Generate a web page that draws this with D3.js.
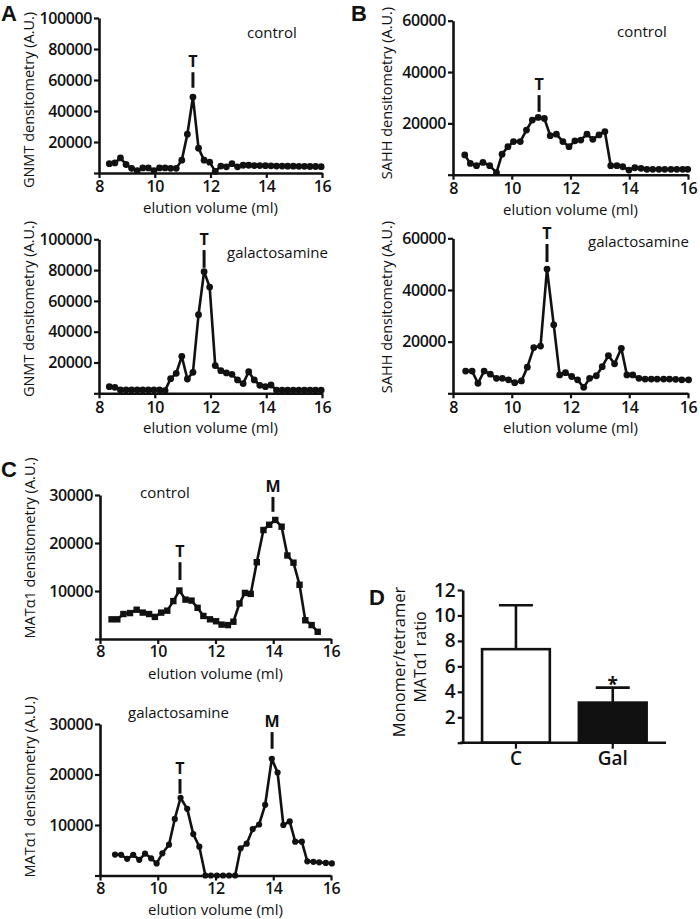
<!DOCTYPE html>
<html><head><meta charset="utf-8">
<script src="https://cdn.jsdelivr.net/npm/d3@7"></script>
<style>
body{margin:0;background:#fff}
svg{display:block}
text{font-family:"Open Sans",sans-serif;fill:#111}
</style>
</head><body>
<svg id="c" width="700" height="919"></svg>
<script>
// ---------- DATA ----------
const volumeTicks = [8, 10, 12, 14, 16];
const gnmtTicks = [0, 20000, 40000, 60000, 80000, 100000];
const sahhTicks = [0, 20000, 40000, 60000];
const matTicks = [0, 10000, 20000, 30000];
const ratioTicks = [0, 2, 4, 6, 8, 10, 12];

// Panel A: GNMT
const fracGnmt = [8.37,8.57,8.77,8.97,9.17,9.37,9.57,9.77,9.97,10.17,10.37,10.57,10.77,10.97,11.17,11.37,11.57,11.77,11.97,12.17,12.37,12.57,12.77,12.97,13.17,13.37,13.57,13.77,13.97,14.17,14.37,14.57,14.77,14.97,15.17,15.37,15.57,15.77,15.97];
const gnmtControl = [6000,6500,9700,5500,3000,1500,3300,3300,1500,3300,3300,3000,3000,8300,25000,49000,16000,8300,7000,1000,4500,4000,6000,4000,5000,5000,4800,4800,4700,4600,4500,4500,4400,4400,4300,4300,4200,4200,4100];
const gnmtGal = [4300,3900,2200,2200,2200,2200,2200,2200,2200,2200,1800,9500,13000,24000,9300,13600,51000,79000,69000,18000,14700,13200,12300,8700,6300,14000,8700,5200,4300,5400,2000,2000,2000,2000,2000,2000,2000,2000,2000];

// Panel B: SAHH
const fracSahhControl = [8.40,8.59,8.80,9.02,9.25,9.48,9.67,9.87,10.06,10.29,10.50,10.70,10.90,11.11,11.31,11.52,11.74,11.95,12.15,12.35,12.56,12.76,12.97,13.17,13.37,13.58,13.78,13.99,14.19,14.40,14.60,14.80,15.01,15.21,15.42,15.62,15.82,15.99];
const sahhControl = [7700,4400,3500,4800,3500,800,8000,10900,12900,12900,17400,21300,22300,21900,15200,15800,12900,10900,13200,13500,15800,13800,15500,16800,3500,3500,3100,1800,2700,2500,2100,2100,2100,2100,2100,2100,2100,2100];
const fracSahhGal = [8.43,8.65,8.85,9.06,9.27,9.48,9.68,9.89,10.10,10.33,10.53,10.75,10.98,11.20,11.43,11.63,11.83,12.04,12.24,12.45,12.65,12.88,13.08,13.29,13.50,13.73,13.92,14.12,14.33,14.54,14.75,14.95,15.17,15.37,15.58,15.79,16.02];
const sahhGal = [8600,8600,3900,8600,7400,5800,5800,5200,4100,4800,10100,17700,18300,48100,26500,7100,8000,6500,5200,2300,5800,6800,10300,14600,11400,17400,7100,7100,5800,5500,5500,5500,5500,5500,5400,5200,5200];

// Panel C: MATα1
const fracMatControl = [8.40,8.60,8.81,9.04,9.27,9.48,9.70,9.90,10.12,10.33,10.54,10.75,10.96,11.17,11.38,11.58,11.81,12.02,12.21,12.43,12.62,12.83,13.02,13.22,13.43,13.66,13.86,14.07,14.29,14.49,14.70,14.91,15.11,15.33,15.54];
const matControl = [4100,4100,5200,5400,6100,5500,5200,4600,5500,5900,7900,10100,8200,8000,6500,4800,4100,3700,3000,2900,3600,7400,9600,9400,16000,22700,23800,24800,23400,17400,15900,11300,3900,2900,1500];
const fracMatGal = [8.52,8.73,8.94,9.15,9.36,9.56,9.77,9.96,10.16,10.39,10.59,10.79,11.02,11.23,11.44,11.65,11.84,12.05,12.26,12.47,12.68,12.87,13.08,13.29,13.51,13.72,13.95,14.15,14.35,14.57,14.76,14.99,15.18,15.39,15.59,15.82,16.03];
const matGal = [4150,4100,3300,4100,3100,4350,3400,2400,4400,6100,11200,15400,13200,8200,5700,0,0,0,0,0,0,5400,6300,9200,10100,14000,23100,20400,10000,10700,6700,6700,2800,2700,2600,2500,2400];

// Peak annotations: label, elution volume, dash range (A.U.)
const annoGnmtControl = [{label:"T", x:11.37, lo:55000, hi:65000}];
const annoGnmtGal = [{label:"T", x:11.77, lo:81500, hi:93000}];
const annoSahhControl = [{label:"T", x:10.93, lo:24500, hi:31000}];
const annoSahhGal = [{label:"T", x:11.20, lo:50800, hi:57800}];
const annoMatControl = [{label:"T", x:10.77, lo:12300, hi:16000}, {label:"M", x:13.99, lo:26500, hi:29600}];
const annoMatGal = [{label:"T", x:10.77, lo:16200, hi:19100}, {label:"M", x:13.96, lo:25100, hi:28400}];

// Panel D
const ratioCategories = ["C", "Gal"];
const ratioMeans = [7.35, 3.15];
const ratioSem = [3.45, 1.18];
const ratioSignif = ["", "*"];

// ---------- DRAW ----------
const svg = d3.select("#c");

function chrom(o) {
  const x = d3.scaleLinear().domain([8, 16]).range([o.x0, o.x1]);
  const y = d3.scaleLinear().domain([0, o.ymax]).range([o.yb, o.yt]);
  const g = svg.append("g");

  const ya = g.append("g").attr("transform", `translate(${o.x0},0)`)
    .call(d3.axisLeft(y).tickValues(o.yticks).tickSize(5).tickSizeOuter(0).tickPadding(2)
      .tickFormat(d => d === 0 ? "" : d3.format("d")(d)));
  const xa = g.append("g").attr("transform", `translate(0,${o.yb})`)
    .call(d3.axisBottom(x).tickValues(volumeTicks).tickSize(5).tickSizeOuter(0).tickPadding(o.xPad || 3)
      .tickFormat(d3.format("d")));
  [ya, xa].forEach(a => {
    a.select(".domain").attr("stroke", "#111").attr("stroke-width", 2.6);
    a.selectAll(".tick line").attr("stroke", "#111").attr("stroke-width", 2.2);
    a.selectAll(".tick text").style("font-family", '"Open Sans",sans-serif')
      .style("font-size", "16px").style("font-weight", 600).style("letter-spacing", "-0.4px").attr("fill", "#111");
  });

  const pts = o.xs.map((v, i) => [v, o.ys[i]]);
  g.append("path").datum(pts)
    .attr("d", d3.line().x(d => x(d[0])).y(d => y(d[1])))
    .attr("fill", "none").attr("stroke", "#111").attr("stroke-width", 2.6).attr("stroke-linejoin", "round");

  if (o.marker === "square") {
    g.selectAll("rect.pt").data(pts).join("rect").attr("class", "pt")
      .attr("x", d => x(d[0]) - 3.2).attr("y", d => y(d[1]) - 3.2)
      .attr("width", 6.4).attr("height", 6.4).attr("fill", "#111");
  } else {
    g.selectAll("circle.pt").data(pts).join("circle").attr("class", "pt")
      .attr("cx", d => x(d[0])).attr("cy", d => y(d[1])).attr("r", o.r || 3.4).attr("fill", "#111");
  }

  o.annos.forEach(a => {
    g.append("line").attr("x1", x(a.x)).attr("x2", x(a.x))
      .attr("y1", y(a.lo)).attr("y2", y(a.hi)).attr("stroke", "#111").attr("stroke-width", 3);
    g.append("text").attr("x", x(a.x)).attr("y", y(a.hi) - 5).attr("text-anchor", "middle")
      .style("font-size", "16px").style("font-weight", 700).text(a.label);
  });

  g.append("text").attr("transform", `translate(${o.titleX},${o.titleY}) rotate(-90)`)
    .attr("text-anchor", "middle").style("font-size", "14.5px").style("font-weight", 500).text(o.title);
  g.append("text").attr("x", (o.x0 + o.x1) / 2).attr("y", o.yb + o.xTitleDy)
    .attr("text-anchor", "middle").style("font-size", "15px").style("font-weight", 500).text("elution volume (ml)");
  g.append("text").attr("x", o.condX).attr("y", o.condY)
    .style("font-size", "15px").style("font-weight", 500).text(o.cond);
}

chrom({xs: fracGnmt, ys: gnmtControl, x0: 99, x1: 322, yb: 173, yt: 18, ymax: 100000, yticks: gnmtTicks,
  title: "GNMT densitometry (A.U.)", titleX: 34, titleY: 100, cond: "control", condX: 247, condY: 38,
  xTitleDy: 40, annos: annoGnmtControl});
chrom({xs: fracGnmt, ys: gnmtGal, x0: 99, x1: 322, yb: 393.3, yt: 239.3, ymax: 100000, yticks: gnmtTicks,
  title: "GNMT densitometry (A.U.)", titleX: 34, titleY: 309, cond: "galactosamine", condX: 227, condY: 258,
  xTitleDy: 40, annos: annoGnmtGal});
chrom({xs: fracSahhControl, ys: sahhControl, x0: 453, x1: 688, yb: 174.7, yt: 20.7, ymax: 60000, yticks: sahhTicks,
  title: "SAHH densitometry (A.U.)", titleX: 392, titleY: 93, cond: "control", condX: 617, condY: 37,
  xTitleDy: 40, annos: annoSahhControl});
chrom({xs: fracSahhGal, ys: sahhGal, x0: 453, x1: 688, yb: 393.3, yt: 238.3, ymax: 60000, yticks: sahhTicks,
  title: "SAHH densitometry (A.U.)", titleX: 392, titleY: 307, cond: "galactosamine", condX: 588, condY: 247,
  xTitleDy: 40, annos: annoSahhGal});
chrom({xs: fracMatControl, ys: matControl, x0: 100, x1: 331, yb: 639, yt: 495, ymax: 30000, yticks: matTicks,
  title: "MATα1 densitometry (A.U.)", titleX: 35, titleY: 548, cond: "control", condX: 140, condY: 498,
  xTitleDy: 40, xPad: 2, marker: "square", annos: annoMatControl});
chrom({xs: fracMatGal, ys: matGal, x0: 100, x1: 331, yb: 875.5, yt: 724, ymax: 30000, yticks: matTicks,
  title: "MATα1 densitometry (A.U.)", titleX: 35, titleY: 787, cond: "galactosamine", condX: 128, condY: 718,
  xTitleDy: 39.5, xPad: 2, r: 3.1, annos: annoMatGal});

// Panel D
(function () {
  const x = d3.scaleBand().domain(ratioCategories).range([462.7, 666]).paddingInner(0.3).paddingOuter(0.2);
  const y = d3.scaleLinear().domain([0, 12]).range([742.7, 590]);
  const g = svg.append("g");
  const bw = x.bandwidth();
  ratioCategories.forEach((c, i) => {
    const cx = x(c) + bw / 2;
    g.append("line").attr("x1", cx).attr("x2", cx).attr("y1", y(ratioMeans[i])).attr("y2", y(ratioMeans[i] + ratioSem[i]))
      .attr("stroke", "#111").attr("stroke-width", 2.6);
    g.append("line").attr("x1", cx - 17).attr("x2", cx + 17)
      .attr("y1", y(ratioMeans[i] + ratioSem[i])).attr("y2", y(ratioMeans[i] + ratioSem[i]))
      .attr("stroke", "#111").attr("stroke-width", 2.6);
    if (ratioSignif[i]) {
      g.append("text").attr("x", cx).attr("y", y(ratioMeans[i] + ratioSem[i]) + 3).attr("text-anchor", "middle")
        .style("font-size", "19px").style("font-weight", 700).text(ratioSignif[i]);
    }
  });
  g.selectAll("rect.bar").data(ratioCategories).join("rect").attr("class", "bar")
    .attr("x", d => x(d)).attr("width", bw)
    .attr("y", (d, i) => y(ratioMeans[i])).attr("height", (d, i) => y(0) - y(ratioMeans[i]))
    .attr("fill", (d, i) => i === 0 ? "#fff" : "#111").attr("stroke", "#111").attr("stroke-width", 2.6);

  const ya = g.append("g").attr("transform", "translate(462.7,0)")
    .call(d3.axisLeft(y).tickValues(ratioTicks).tickSize(5).tickSizeOuter(0).tickPadding(2)
      .tickFormat(d => d === 0 ? "" : d));
  const xa = g.append("g").attr("transform", `translate(0,${y(0)})`)
    .call(d3.axisBottom(x).tickSize(6).tickSizeOuter(0).tickPadding(3));
  xa.select(".domain").attr("d", `M460,0H666`);
  [ya, xa].forEach(a => {
    a.select(".domain").attr("stroke", "#111").attr("stroke-width", 2.6);
    a.selectAll(".tick line").attr("stroke", "#111").attr("stroke-width", 2.2);
    a.selectAll(".tick text").style("font-family", '"Open Sans",sans-serif')
      .style("font-size", "19px").style("font-weight", 600).attr("fill", "#111");
  });
  g.append("text").attr("transform", "translate(405,662) rotate(-90)").attr("text-anchor", "middle")
    .style("font-size", "16.5px").style("font-weight", 500).text("Monomer/tetramer");
  g.append("text").attr("transform", "translate(426,657) rotate(-90)").attr("text-anchor", "middle")
    .style("font-size", "16px").style("font-weight", 500).text("MATα1 ratio");
})();

// Panel letters
const panelLetters = [["A", 1, 21], ["B", 351, 21], ["C", 1, 477], ["D", 369, 605]];
svg.selectAll("text.pl").data(panelLetters).join("text").attr("class", "pl")
  .attr("x", d => d[1]).attr("y", d => d[2])
  .style("font-family", '"Liberation Sans",Arial,sans-serif').style("font-size", "22px").style("font-weight", 700)
  .text(d => d[0]);
</script>
</body></html>
